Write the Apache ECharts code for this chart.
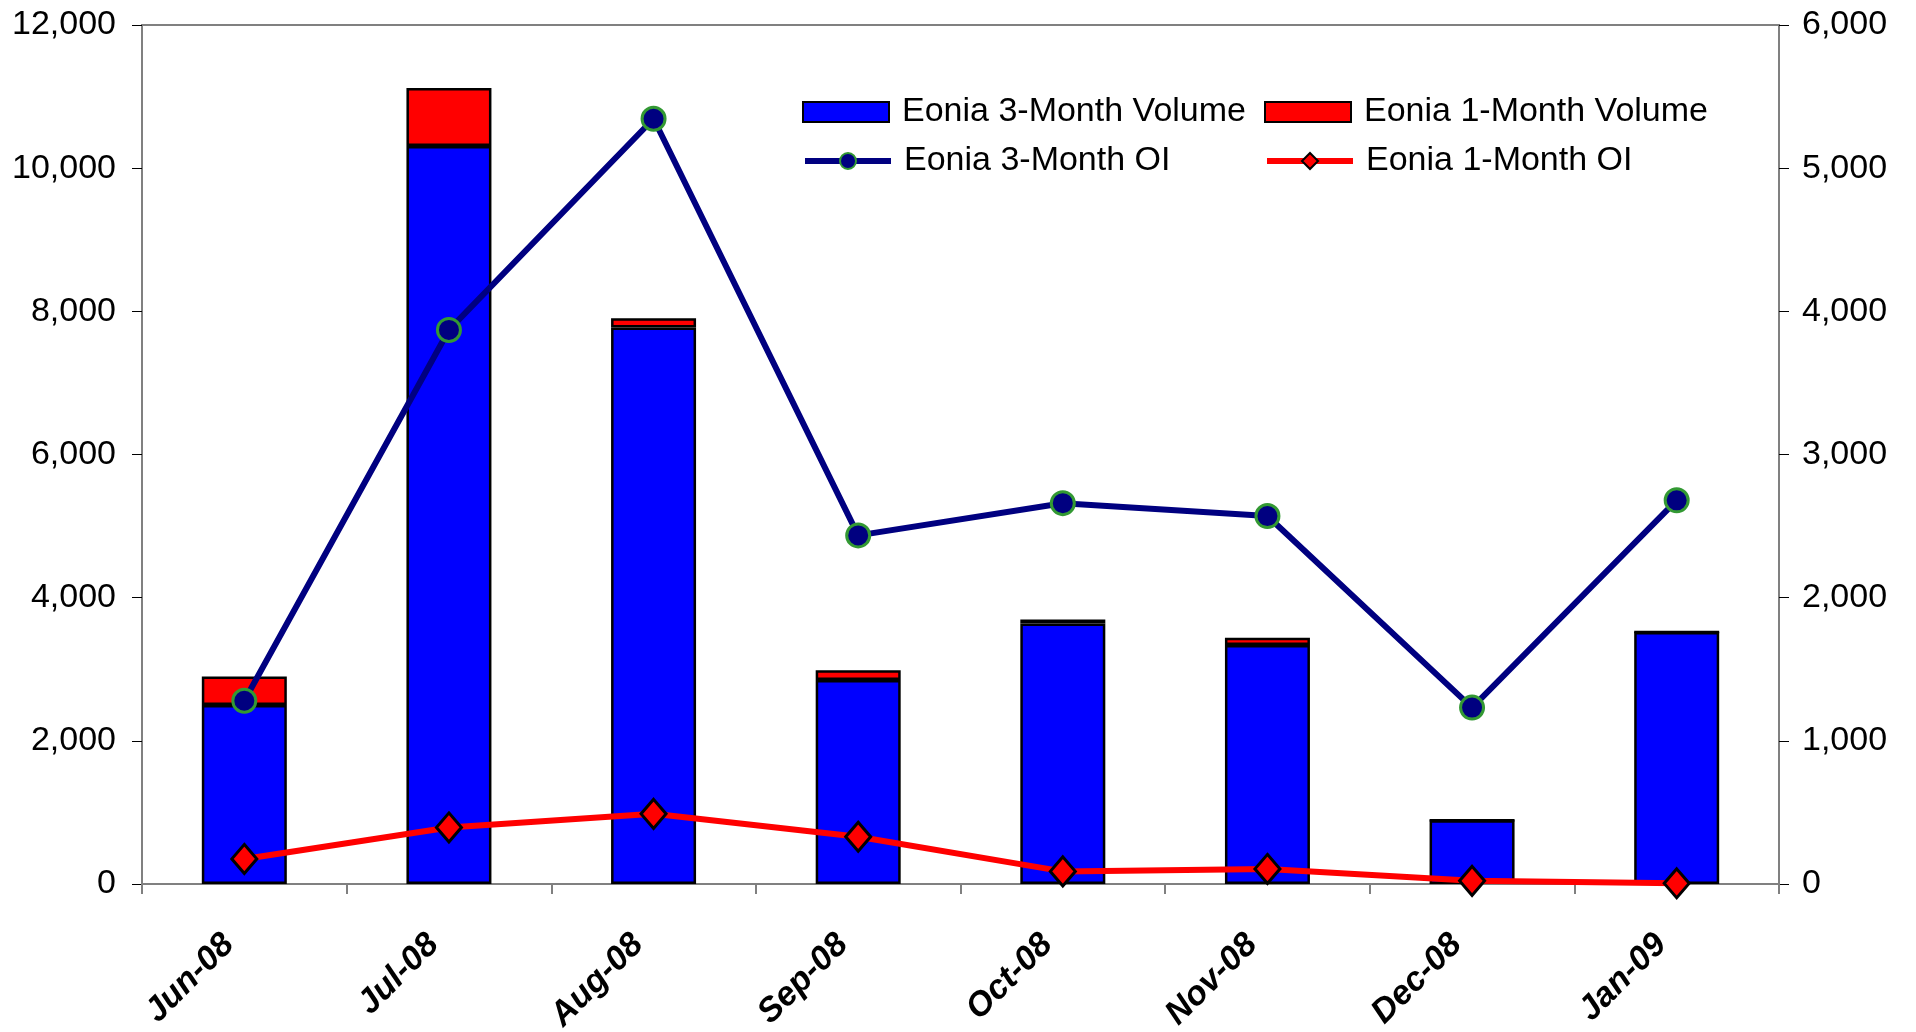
<!DOCTYPE html>
<html><head><meta charset="utf-8">
<script src="https://cdn.jsdelivr.net/npm/echarts@6/dist/echarts.min.js"></script>
<style>html,body{margin:0;padding:0;background:#fff}#c{width:1916px;height:1032px}</style>
</head><body><div id="c"></div>
<script>
const categories = ['Jun-08','Jul-08','Aug-08','Sep-08','Oct-08','Nov-08','Dec-08','Jan-09'];
const vol3M = [2500, 10310, 7775, 2850, 3640, 3340, 890, 3520];
const vol1M = [400, 810, 130, 135, 55, 100, 0, 0];
const oi3M = [1280, 3870, 5345, 2435, 2660, 2570, 1232, 2680];
const oi1M = [175, 395, 490, 330, 88, 105, 22, 5];
const seriesNames = ['Eonia 3-Month Volume','Eonia 1-Month Volume','Eonia 3-Month OI','Eonia 1-Month OI'];

const FONT = 'Liberation Sans, Arial, sans-serif';
const fmt = v => Number(v).toLocaleString('en-US');
const legendText = {color:'#000', fontSize:34, fontFamily:FONT, lineHeight:38, padding:[0,0,0,8]};
function lg(name, left, top, icon){
  const d = {name:name}; if (icon) d.icon = icon;
  return {data:[d], left:left, top:top, padding:0, itemWidth:86, itemHeight:20,
    lineStyle:{width:6}, textStyle:legendText, selectedMode:false};
}
const chart = echarts.init(document.getElementById('c'), null, {renderer:'canvas'});
chart.setOption({
  animation:false,
  backgroundColor:'#fff',
  grid:{left:142, right:137, top:25, bottom:148, containLabel:false, outerBoundsMode:'none',
    show:true, borderColor:'#808080', borderWidth:2},
  legend:[
    lg(seriesNames[0], 802, 93, 'rect'),
    lg(seriesNames[1], 1264, 93, 'rect'),
    lg(seriesNames[2], 802, 142),
    lg(seriesNames[3], 1264, 142)
  ],
  xAxis:{type:'category', data:categories,
    axisLine:{lineStyle:{color:'#808080', width:2}},
    axisTick:{show:true, length:10, lineStyle:{color:'#808080', width:2}},
    axisLabel:{rotate:45, margin:40, padding:[0,22,0,0], color:'#000', fontSize:34, fontWeight:'bold', fontStyle:'italic', fontFamily:FONT, interval:0},
    splitLine:{show:false}},
  yAxis:[
    {type:'value', min:0, max:12000, interval:2000, position:'left',
      axisLine:{show:true, lineStyle:{color:'#808080', width:2}},
      axisTick:{show:true, length:10, lineStyle:{color:'#000', width:1}},
      axisLabel:{margin:26, color:'#000', fontSize:34, fontFamily:FONT, formatter:fmt},
      splitLine:{show:false}},
    {type:'value', min:0, max:6000, interval:1000, position:'right',
      axisLine:{show:true, lineStyle:{color:'#808080', width:2}},
      axisTick:{show:true, length:10, lineStyle:{color:'#000', width:1}},
      axisLabel:{margin:23, color:'#000', fontSize:34, fontFamily:FONT, formatter:fmt},
      splitLine:{show:false}}
  ],
  series:[
    {name:seriesNames[0], type:'bar', stack:'v', data:vol3M, barWidth:85, yAxisIndex:0,
      itemStyle:{color:'#0000FF', borderColor:'#000', borderWidth:2.5}},
    {name:seriesNames[1], type:'bar', stack:'v', data:vol1M, barWidth:85, yAxisIndex:0,
      itemStyle:{color:'#FF0000', borderColor:'#000', borderWidth:2.5}},
    {name:seriesNames[2], type:'line', data:oi3M, yAxisIndex:1, z:5,
      lineStyle:{color:'#000080', width:6}, symbol:'circle', symbolSize:23,
      itemStyle:{color:'#000080', borderColor:'#339933', borderWidth:3}},
    {name:seriesNames[3], type:'line', data:oi1M, yAxisIndex:1, z:6,
      lineStyle:{color:'#FF0000', width:6}, symbol:'diamond', symbolSize:[25,29],
      itemStyle:{color:'#FF0000', borderColor:'#000', borderWidth:3}}
  ]
});
</script></body></html>
